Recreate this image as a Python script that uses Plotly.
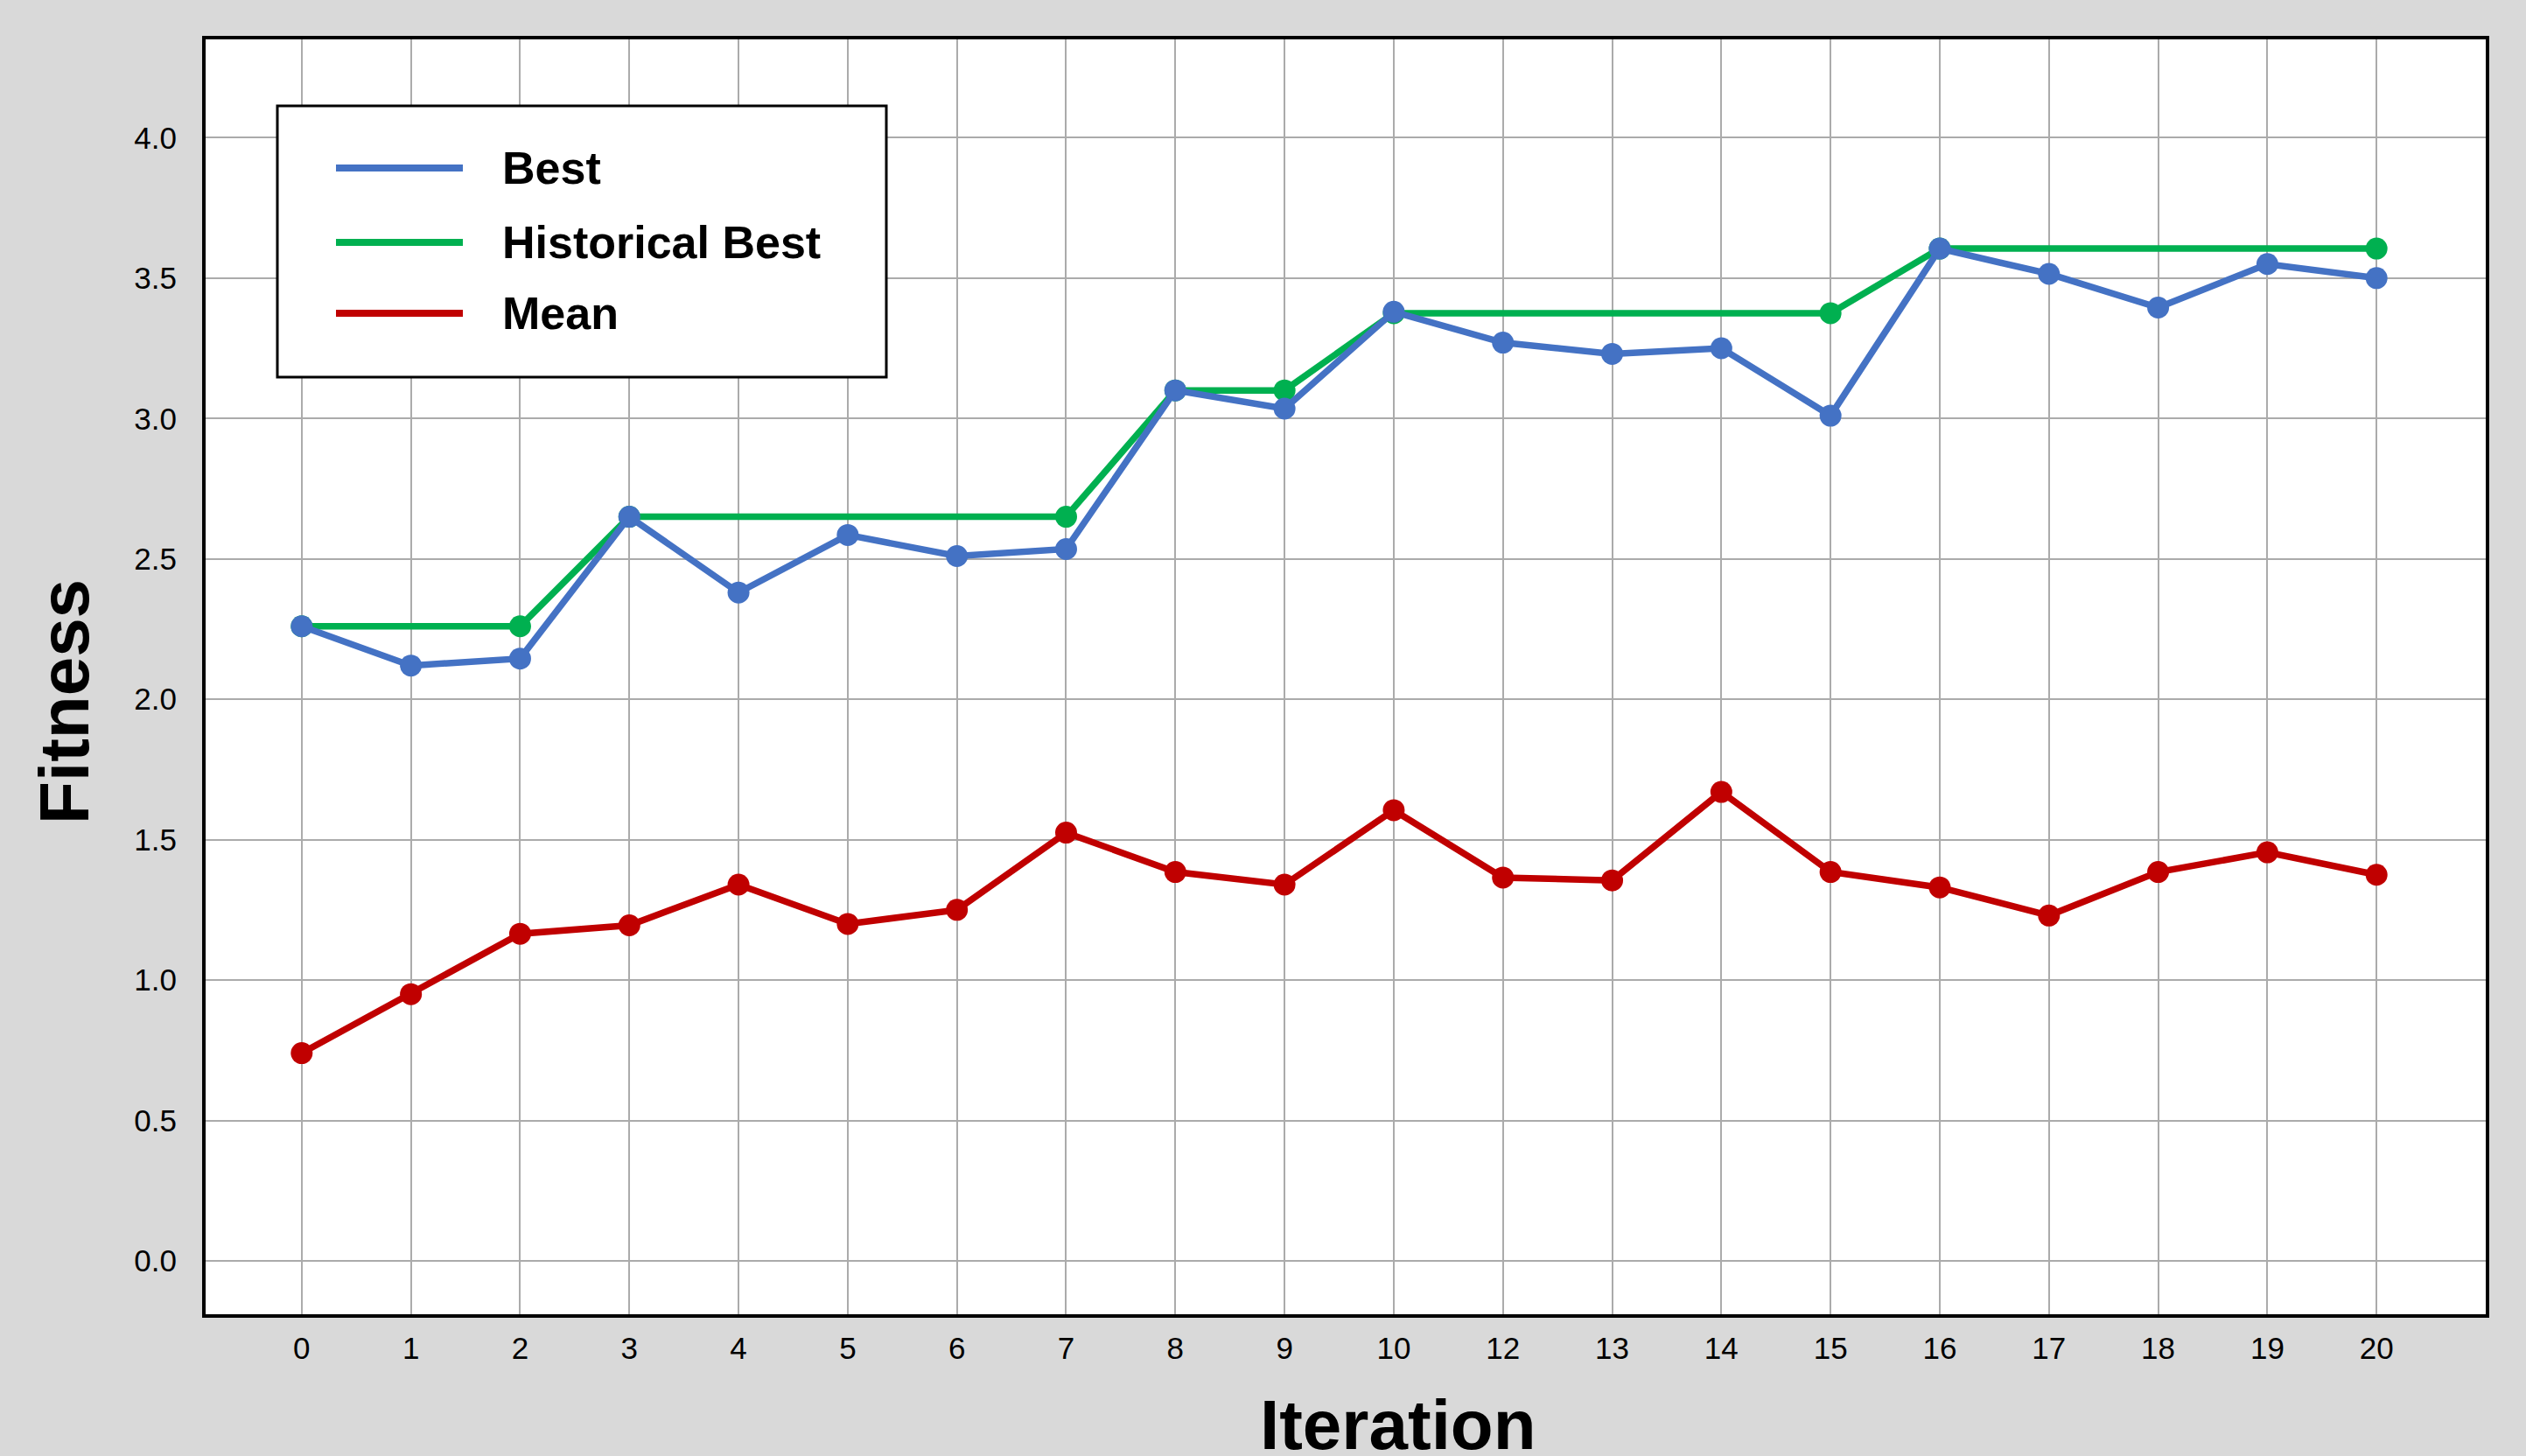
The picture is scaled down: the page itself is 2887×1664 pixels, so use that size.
import plotly.graph_objects as go

iterations = ["0", "1", "2", "3", "4", "5", "6", "7", "8", "9", "10",
              "12", "13", "14", "15", "16", "17", "18", "19", "20"]
best = [2.26, 2.12, 2.145, 2.65, 2.38, 2.585, 2.51, 2.535, 3.10, 3.035, 3.38,
        3.27, 3.23, 3.25, 3.01, 3.605, 3.515, 3.395, 3.55, 3.50]
hist_iters = ["0", "2", "3", "7", "8", "9", "10", "15", "16", "20"]
hist_best = [2.26, 2.26, 2.65, 2.65, 3.10, 3.10, 3.375, 3.375, 3.605, 3.605]
mean = [0.74, 0.95, 1.165, 1.195, 1.34, 1.20, 1.25, 1.525, 1.385, 1.34, 1.605,
        1.365, 1.355, 1.67, 1.385, 1.33, 1.23, 1.385, 1.455, 1.375]

series_names = ["Best", "Historical Best", "Mean"]
colors = {"Best": "#4472C4", "Historical Best": "#00B050", "Mean": "#C00000"}

FONT = "Liberation Sans, Arial, sans-serif"

fig = go.Figure()
fig.add_trace(go.Scatter(x=hist_iters, y=hist_best, mode="lines+markers",
                         name="Historical Best",
                         line=dict(color=colors["Historical Best"], width=7.5),
                         marker=dict(size=25, color=colors["Historical Best"])))
fig.add_trace(go.Scatter(x=iterations, y=best, mode="lines+markers", name="Best",
                         line=dict(color=colors["Best"], width=7.5),
                         marker=dict(size=25, color=colors["Best"])))
fig.add_trace(go.Scatter(x=iterations, y=mean, mode="lines+markers", name="Mean",
                         line=dict(color=colors["Mean"], width=7.5),
                         marker=dict(size=25, color=colors["Mean"])))

W, H = 2887, 1664
L, R, T, B = 235, 46, 45, 162

fig.update_layout(
    width=W, height=H,
    margin=dict(l=L, r=R, t=T, b=B),
    paper_bgcolor="#D9D9D9",
    plot_bgcolor="white",
    showlegend=False,
    font=dict(family=FONT, color="black", size=35),
)
fig.update_xaxes(
    type="category", categoryorder="array", categoryarray=iterations,
    range=[-0.88, 20.0],
    showgrid=True, gridcolor="#ABABAB", gridwidth=2,
    showline=True, linecolor="black", linewidth=4, mirror=True,
    ticks="", ticklabelstandoff=5,
    tickfont=dict(size=35, family=FONT, color="black"),
    zeroline=False,
)
fig.update_yaxes(
    range=[-0.19, 4.35],
    tickvals=[0, 0.5, 1, 1.5, 2, 2.5, 3, 3.5, 4],
    ticktext=["0.0", "0.5", "1.0", "1.5", "2.0", "2.5", "3.0", "3.5", "4.0"],
    showgrid=True, gridcolor="#ABABAB", gridwidth=2,
    showline=True, linecolor="black", linewidth=4, mirror=True,
    ticks="", ticklabelstandoff=22,
    tickfont=dict(size=35, family=FONT, color="black"),
    zeroline=False,
)

# axis titles
fig.add_annotation(text="<b>Iteration</b>", xref="paper", yref="paper",
                   x=0.523, y=-0.055, xanchor="center", yanchor="top",
                   showarrow=False, font=dict(size=80, family=FONT, color="black"))
fig.add_annotation(text="<b>Fitness</b>", xref="paper", yref="paper",
                   x=-0.0622, y=0.4804, xanchor="center", yanchor="middle",
                   textangle=-90, showarrow=False,
                   font=dict(size=80, family=FONT, color="black"))

# legend box (drawn manually to match long sample lines)
pw, ph = W - L - R, H - T - B
def px(x):
    return (x - L) / pw
def py(y):
    return (H - B - y) / ph

fig.add_shape(type="rect", xref="paper", yref="paper",
              x0=px(317), x1=px(1013), y0=py(431), y1=py(121),
              fillcolor="white", line=dict(color="black", width=3), layer="above")
rows = [192, 277, 358]
for name, ry in zip(series_names, rows):
    fig.add_shape(type="line", xref="paper", yref="paper",
                  x0=px(384), x1=px(529), y0=py(ry), y1=py(ry),
                  line=dict(color=colors[name], width=8), layer="above")
    fig.add_annotation(text="<b>%s</b>" % name, xref="paper", yref="paper",
                       x=px(572), y=py(ry), xanchor="left", yanchor="middle",
                       showarrow=False, font=dict(size=52, family=FONT, color="black"))

fig.write_html("out.html", config={"displayModeBar": False},
               post_script="document.body.style.margin='0px';document.body.style.overflow='hidden';")
